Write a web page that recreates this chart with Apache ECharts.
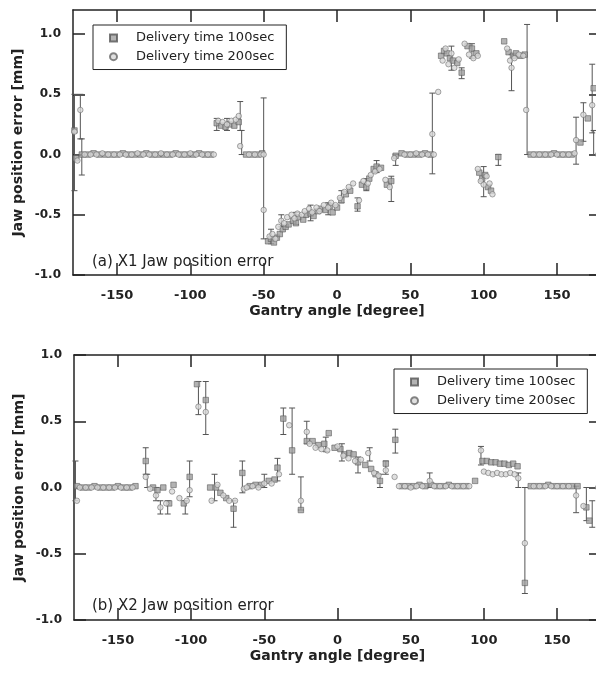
<!DOCTYPE html>
<html>
<head>
    <title>Jaw position error</title>
    <script src="https://cdn.jsdelivr.net/npm/echarts@6.0.0/dist/echarts.min.js"></script>
</head>
<body style="margin:0">
    <div id="main" style="width: 596px; height: 674px;"></div>

    <script>
        // x tick labels and y tick labels
        const xTicks = [-150, -100, -50, 0, 50, 100, 150];
        const yTicks = [-1.0, -0.5, 0.0, 0.5, 1.0];
        const names = ['Delivery time 100sec', 'Delivery time 200sec'];

        // (a) X1 jaw, delivery time 100sec  [gantry angle, error]
        const x1Sec100 = [
            [-179, 0.2], [-178, -0.03],
            [-174, 0], [-170, 0], [-166, 0.01], [-162, 0], [-158, 0], [-154, 0], [-150, 0], [-146, 0.01],
            [-142, 0], [-138, 0], [-134, 0], [-130, 0.01], [-126, 0], [-122, 0], [-118, 0], [-114, 0],
            [-110, 0.01], [-106, 0], [-102, 0], [-98, 0], [-94, 0.01], [-90, 0], [-86, 0],
            [-82, 0.26], [-79, 0.24], [-76, 0.23], [-73, 0.25], [-70, 0.24], [-67, 0.27],
            [-62, 0], [-58, 0], [-54, 0], [-51, 0.01],
            [-47, -0.72], [-45, -0.7], [-43, -0.73], [-41, -0.69], [-39, -0.66], [-37, -0.62], [-35, -0.6],
            [-33, -0.58], [-30, -0.55], [-28, -0.57], [-26, -0.52], [-23, -0.54], [-21, -0.5], [-18, -0.49],
            [-16, -0.51], [-13, -0.47], [-11, -0.45], [-8, -0.46], [-5, -0.43], [-3, -0.48], [0, -0.44],
            [3, -0.38], [6, -0.33], [9, -0.3], [14, -0.43], [17, -0.25], [20, -0.27], [22, -0.2],
            [25, -0.12], [27, -0.1], [30, -0.11], [34, -0.25], [37, -0.22], [40, -0.01],
            [44, 0.01], [48, 0], [52, 0], [56, 0], [60, 0.01], [64, 0],
            [71, 0.82], [73, 0.86], [75, 0.84], [77, 0.8], [79, 0.78], [82, 0.76], [85, 0.68],
            [89, 0.9], [92, 0.88], [95, 0.84],
            [97, -0.15], [99, -0.2], [101, -0.17], [103, -0.27], [105, -0.3], [110, -0.02],
            [114, 0.94], [117, 0.85], [120, 0.82], [122, 0.84], [125, 0.82], [128, 0.83],
            [132, 0], [136, 0], [140, 0], [144, 0], [148, 0.01], [152, 0], [156, 0], [160, 0],
            [166, 0.1], [171, 0.3], [175, 0.55]
        ];
        // (a) X1 jaw, delivery time 200sec
        const x1Sec200 = [
            [-175, 0.37], [-179, 0.19], [-177, -0.05],
            [-172, 0], [-168, 0], [-164, 0], [-160, 0.01], [-156, 0], [-152, 0], [-148, 0], [-144, 0],
            [-140, 0], [-136, 0.01], [-132, 0], [-128, 0], [-124, 0], [-120, 0.01], [-116, 0], [-112, 0],
            [-108, 0], [-104, 0], [-100, 0.01], [-96, 0], [-92, 0], [-88, 0], [-84, 0],
            [-81, 0.28], [-78, 0.27], [-75, 0.25], [-72, 0.28], [-69, 0.29], [-67, 0.32], [-66, 0.07],
            [-60, 0], [-56, 0], [-52, 0], [-50, 0], [-50, -0.46],
            [-46, -0.68], [-44, -0.66], [-42, -0.7], [-40, -0.6], [-38, -0.55], [-36, -0.57], [-34, -0.52],
            [-31, -0.5], [-29, -0.53], [-27, -0.49], [-24, -0.5], [-22, -0.47], [-19, -0.45], [-17, -0.48],
            [-14, -0.44], [-12, -0.47], [-9, -0.42], [-6, -0.44], [-4, -0.4], [-1, -0.42], [2, -0.36],
            [5, -0.31], [8, -0.27], [11, -0.24], [15, -0.38], [18, -0.22], [21, -0.24], [23, -0.17],
            [26, -0.14], [29, -0.12], [33, -0.21], [36, -0.27], [39, -0.03],
            [46, 0], [50, 0], [54, 0.01], [58, 0], [62, 0], [65, 0.17], [66, 0], [69, 0.52],
            [72, 0.78], [74, 0.88], [76, 0.75], [78, 0.84], [80, 0.72], [83, 0.79], [87, 0.92],
            [90, 0.83], [93, 0.8], [96, 0.82],
            [96, -0.12], [98, -0.22], [100, -0.25], [102, -0.18], [104, -0.24], [106, -0.33],
            [116, 0.88], [118, 0.78], [119, 0.72], [121, 0.8], [124, 0.83], [127, 0.82], [129, 0.37],
            [134, 0], [138, 0], [142, 0], [146, 0], [150, 0], [154, 0], [158, 0], [162, 0.01],
            [163, 0.12], [168, 0.33], [174, 0.41], [178, 0]
        ];
        // (a) error bars [gantry angle, low, high]
        const x1Err = [
            [-179, -0.3, 0.5], [-175, 0.13, 0.5], [-174, -0.17, 0.13], [-82, 0.2, 0.3], [-75, 0.2, 0.3],
            [-66, 0.2, 0.44], [-65, 0.0, 0.2], [-50, -0.7, 0.47], [-45, -0.74, -0.62], [-38, -0.6, -0.5],
            [-28, -0.58, -0.48], [-18, -0.55, -0.42], [-6, -0.5, -0.4], [3, -0.4, -0.3], [14, -0.47, -0.36],
            [20, -0.3, -0.2], [27, -0.15, -0.05], [37, -0.39, -0.18], [40, -0.09, 0.0], [65, -0.16, 0.51],
            [78, 0.7, 0.9], [85, 0.63, 0.72], [92, 0.8, 0.92], [100, -0.35, -0.1], [110, -0.09, 0.0],
            [119, 0.53, 0.83], [129.6, 0, 1.08], [163, -0.08, 0.31], [168, 0.11, 0.43], [174, 0.18, 0.75],
            [175, 0.0, 0.2]
        ];

        // (b) X2 jaw, delivery time 100sec
        const x2Sec100 = [
            [-178, 0.01], [-174, 0], [-170, 0], [-166, 0.01], [-162, 0], [-158, 0], [-154, 0], [-150, 0.01],
            [-146, 0], [-142, 0], [-138, 0.01],
            [-131, 0.2], [-126, 0.0], [-123, -0.02], [-119, 0.0], [-115, -0.12], [-112, 0.02], [-105, -0.12],
            [-101, 0.08], [-96, 0.78], [-90, 0.66], [-87, 0.0], [-83, 0.0], [-80, -0.04], [-76, -0.08],
            [-71, -0.16], [-65, 0.11], [-60, 0.01], [-56, 0.02], [-52, 0.02], [-47, 0.05], [-43, 0.06],
            [-41, 0.15], [-37, 0.52], [-31, 0.28], [-25, -0.17], [-21, 0.35], [-17, 0.35], [-13, 0.32],
            [-9, 0.33], [-6, 0.41], [-2, 0.3], [2, 0.29], [5, 0.25], [8, 0.26], [11, 0.25], [14, 0.19],
            [19, 0.17], [23, 0.14], [26, 0.1], [29, 0.05], [33, 0.18], [39.5, 0.36],
            [44, 0.01], [48, 0.01], [52, 0.01], [56, 0.02], [60, 0.01], [64, 0.02], [68, 0.01], [72, 0.01],
            [76, 0.02], [80, 0.01], [84, 0.01], [88, 0.01], [94, 0.05],
            [99, 0.2], [102, 0.2], [105, 0.19], [108, 0.19], [111, 0.18], [114, 0.18], [117, 0.17],
            [120, 0.18], [123, 0.16], [128, -0.72],
            [132, 0.01], [136, 0.01], [140, 0.01], [144, 0.02], [148, 0.01], [152, 0.01], [156, 0.01],
            [160, 0.01], [164, 0.01], [170, -0.15], [172, -0.25]
        ];
        // (b) X2 jaw, delivery time 200sec
        const x2Sec200 = [
            [-178, -0.1], [-176, 0], [-172, 0], [-168, 0], [-164, 0], [-160, 0], [-156, 0], [-152, 0],
            [-148, 0], [-144, 0], [-140, 0],
            [-131, 0.08], [-128, -0.01], [-124, -0.06], [-121, -0.15], [-117, -0.12], [-113, -0.03],
            [-108, -0.08], [-103, -0.1], [-101, -0.02], [-95, 0.61], [-90, 0.57], [-86, -0.1], [-82, 0.02],
            [-78, -0.06], [-74, -0.1], [-70, -0.1], [-64, -0.01], [-62, 0.0], [-58, 0.01], [-54, 0.0],
            [-50, 0.03], [-45, 0.03], [-40, 0.1], [-33, 0.47], [-25, -0.1], [-21, 0.42], [-19, 0.33],
            [-15, 0.3], [-11, 0.29], [-7, 0.28], [0, 0.31], [4, 0.24], [7.5, 0.22], [12, 0.2], [16, 0.21],
            [21, 0.26], [25, 0.11], [28, 0.09], [33, 0.13], [39, 0.08],
            [42, 0.01], [46, 0.01], [50, 0], [54, 0.01], [58, 0.01], [63, 0.05], [66, 0.01], [70, 0.01],
            [74, 0.01], [78, 0.01], [82, 0.01], [86, 0.01], [90, 0.01],
            [98, 0.28], [100, 0.12], [103, 0.11], [106, 0.1], [109, 0.11], [112, 0.1], [115, 0.1],
            [118, 0.11], [121, 0.1], [123.5, 0.07], [128, -0.42],
            [134, 0.01], [138, 0.01], [142, 0.01], [146, 0.01], [150, 0.01], [154, 0.01], [158, 0.01],
            [163, -0.06], [168, -0.14], [178, 0.0]
        ];
        // (b) error bars
        const x2Err = [
            [-179, -0.1, 0.2], [-131, 0.1, 0.3], [-130, 0.0, 0.1], [-124, -0.1, 0.0], [-121, -0.2, -0.1],
            [-116, -0.2, -0.1], [-104, -0.2, -0.1], [-101, -0.07, 0.2], [-95, 0.55, 0.8], [-90, 0.4, 0.8],
            [-84, -0.1, 0.1], [-71, -0.3, -0.1], [-65, -0.04, 0.2], [-50, 0.0, 0.1], [-41, 0.05, 0.22],
            [-37, 0.4, 0.6], [-31, 0.1, 0.6], [-25, -0.17, 0.08], [-21, 0.33, 0.5], [-8, 0.27, 0.38],
            [3, 0.2, 0.33], [14, 0.11, 0.23], [22, 0.2, 0.3], [29, 0.0, 0.1], [33, 0.1, 0.2],
            [39.5, 0.26, 0.44], [63, 0.0, 0.11], [98, 0.17, 0.31], [123.5, 0.0, 0.11], [128, -0.8, 0.0],
            [163, -0.19, 0.01], [170, -0.25, 0.0], [174, -0.3, -0.1]
        ];

        const font = 'DejaVu Sans';
        const ink = '#222';

        function errorBar(params, api) {
            const x = api.value(0);
            const top = api.coord([x, api.value(2)]);
            const bot = api.coord([x, api.value(1)]);
            const w = 3;
            const st = { stroke: '#555', lineWidth: 1 };
            return {
                type: 'group',
                children: [
                    { type: 'line', shape: { x1: top[0], y1: top[1], x2: bot[0], y2: bot[1] }, style: st },
                    { type: 'line', shape: { x1: top[0] - w, y1: top[1], x2: top[0] + w, y2: top[1] }, style: st },
                    { type: 'line', shape: { x1: bot[0] - w, y1: bot[1], x2: bot[0] + w, y2: bot[1] }, style: st }
                ]
            };
        }

        function xAxes(gi) {
            const line = { show: true, onZero: false, lineStyle: { color: ink, width: 1.5 } };
            const tick = { show: true, inside: true, length: 12, customValues: xTicks, lineStyle: { color: ink, width: 1.5 } };
            return [{
                type: 'value', gridIndex: gi, min: -180, max: 180, position: 'bottom',
                axisLine: line, axisTick: tick, splitLine: { show: false },
                axisLabel: { customValues: xTicks, margin: 7, color: ink, fontFamily: font, fontWeight: 'bold', fontSize: 13 },
                name: 'Gantry angle [degree]', nameLocation: 'middle', nameGap: 22, nameMoveOverlap: false,
                nameTextStyle: { color: ink, fontFamily: font, fontWeight: 'bold', fontSize: 14 }
            }, {
                type: 'value', gridIndex: gi, min: -180, max: 180, position: 'top',
                axisLine: line, axisTick: tick, splitLine: { show: false }, axisLabel: { show: false }
            }];
        }

        function yAxes(gi, max) {
            const line = { show: true, onZero: false, lineStyle: { color: ink, width: 1.5 } };
            const tick = { show: true, inside: true, length: 12, customValues: yTicks, lineStyle: { color: ink, width: 1.5 } };
            return [{
                type: 'value', gridIndex: gi, min: -1, max: max, position: 'left',
                axisLine: line, axisTick: tick, splitLine: { show: false },
                axisLabel: {
                    customValues: yTicks, margin: 12, color: ink, fontFamily: font, fontWeight: 'bold', fontSize: 12,
                    formatter: v => v.toFixed(1)
                },
                name: 'Jaw position error [mm]', nameLocation: 'middle', nameGap: 40, nameMoveOverlap: false,
                nameTextStyle: { color: ink, fontFamily: font, fontWeight: 'bold', fontSize: 14 }
            }, {
                type: 'value', gridIndex: gi, min: -1, max: max, position: 'right',
                axisLine: line, axisTick: tick, splitLine: { show: false }, axisLabel: { show: false }
            }];
        }

        const sq = { color: '#a0a0a0', borderColor: '#555', borderWidth: 0.7 };
        const ci = { color: '#d8d8d8', borderColor: '#666', borderWidth: 0.7 };

        function panelSeries(ax, s100, s200, err) {
            return [
                { type: 'custom', xAxisIndex: ax, yAxisIndex: ax, renderItem: errorBar, data: err,
                  encode: { x: 0, y: [1, 2] }, silent: true, z: 1 },
                { type: 'scatter', name: names[0], xAxisIndex: ax, yAxisIndex: ax, data: s100,
                  symbol: 'rect', symbolSize: 5.5, itemStyle: sq, z: 2 },
                { type: 'scatter', name: names[1], xAxisIndex: ax, yAxisIndex: ax, data: s200,
                  symbol: 'circle', symbolSize: 5.5, itemStyle: ci, z: 3 }
            ];
        }

        const legendBase = {
            orient: 'vertical',
            data: [{ name: names[0], icon: 'rect' }, { name: names[1], icon: 'circle' }],
            itemWidth: 7, itemHeight: 7, itemGap: -7,
            borderColor: ink, borderWidth: 1, padding: [0, 12, 0, 16],
            textStyle: { color: ink, fontFamily: font, fontSize: 13, padding: [0, 0, 0, 14] }
        };

        const option = {
            animation: false,
            backgroundColor: '#fff',
            grid: [
                { left: 73, top: 10, right: -5, height: 265, outerBoundsMode: 'none' },
                { left: 74, top: 355, right: -5, height: 265, outerBoundsMode: 'none' }
            ],
            xAxis: [...xAxes(0), ...xAxes(1)],
            yAxis: [...yAxes(0, 1.2), ...yAxes(1, 1.0)],
            legend: [
                Object.assign({ left: 93, top: 25 }, legendBase),
                Object.assign({ left: 394, top: 369 }, legendBase)
            ],
            graphic: [
                { type: 'text', left: 92, top: 247, style: { text: '(a) X1 Jaw position error', fill: ink, font: '15px "DejaVu Sans"' } },
                { type: 'text', left: 92, top: 591, style: { text: '(b) X2 Jaw position error', fill: ink, font: '15px "DejaVu Sans"' } }
            ],
            series: [
                ...panelSeries(0, x1Sec100, x1Sec200, x1Err),
                ...panelSeries(2, x2Sec100, x2Sec200, x2Err)
            ]
        };

        const chart = echarts.init(document.getElementById('main'));
        chart.setOption(option);
    </script>
</body>
</html>
